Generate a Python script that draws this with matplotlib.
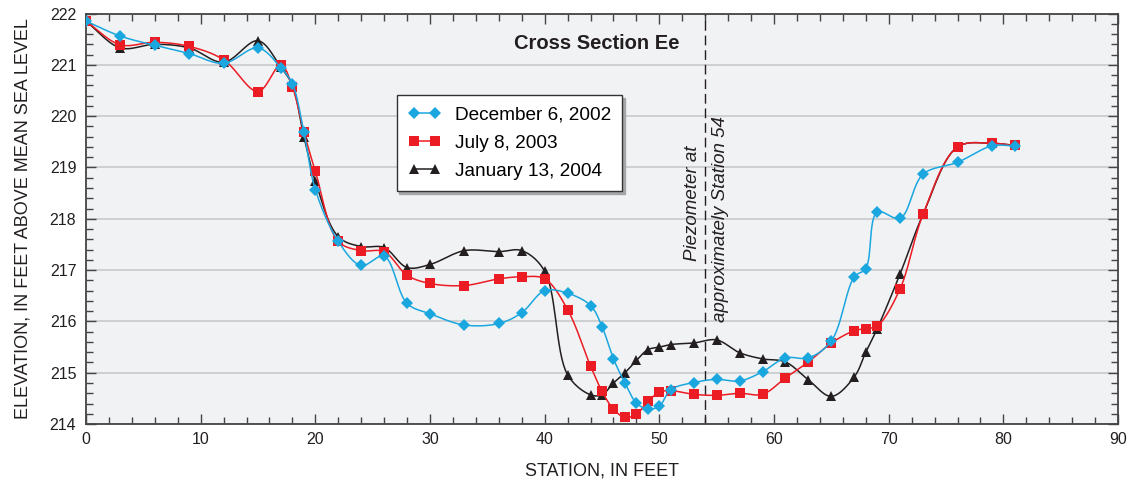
import numpy as np
import matplotlib
matplotlib.use('Agg')
import matplotlib.pyplot as plt
from matplotlib.lines import Line2D
from matplotlib.ticker import MultipleLocator

plt.rcParams['font.family'] = ['Liberation Sans', 'DejaVu Sans']

# station, in feet (same stations surveyed each time)
stations = [0, 3, 6, 9, 12, 15, 17, 18, 19, 20, 22, 24, 26, 28, 30, 33, 36, 38, 40, 42,
            44, 45, 46, 47, 48, 49, 50, 51, 53, 55, 57, 59, 61, 63, 65, 67, 68, 69, 71,
            73, 76, 79, 81]

dec_2002 = [221.85, 221.56, 221.38, 221.22, 221.03, 221.33, 220.94, 220.63, 219.69, 218.57,
            217.56, 217.09, 217.27, 216.35, 216.15, 215.93, 215.96, 216.17, 216.60, 216.55,
            216.31, 215.90, 215.27, 214.80, 214.41, 214.29, 214.35, 214.67, 214.81, 214.87,
            214.84, 215.02, 215.29, 215.29, 215.62, 216.87, 217.03, 218.13, 218.01, 218.87,
            219.10, 219.42, 219.42]

jul_2003 = [221.85, 221.39, 221.44, 221.36, 221.10, 220.48, 221.00, 220.57, 219.69, 218.93,
            217.56, 217.38, 217.36, 216.90, 216.74, 216.70, 216.83, 216.87, 216.83, 216.23,
            215.13, 214.64, 214.29, 214.13, 214.19, 214.44, 214.62, 214.65, 214.58, 214.56,
            214.60, 214.58, 214.90, 215.21, 215.58, 215.82, 215.86, 215.91, 216.64, 218.09,
            219.40, 219.47, 219.43]

jan_2004 = [221.85, 221.33, 221.40, 221.33, 221.05, 221.47, 220.95, 220.60, 219.60, 218.73,
            217.65, 217.46, 217.44, 217.05, 217.11, 217.38, 217.36, 217.38, 216.98, 214.96,
            214.57, 214.57, 214.80, 215.00, 215.24, 215.45, 215.50, 215.55, 215.58, 215.64,
            215.39, 215.27, 215.21, 214.86, 214.54, 214.92, 215.40, 215.86, 216.93, 218.09,
            219.40, 219.47, 219.43]

piezometer_station = 54

BLUE = '#1aa7e0'
RED = '#ec1c24'
BLACK = '#231f20'


def smooth_curve(x, y, n=16, alpha=0.5, yscale=4.5):
    # centripetal catmull-rom through the surveyed points (for drawing only)
    p = np.column_stack([np.asarray(x, float), np.asarray(y, float) * yscale])
    p = np.vstack([2 * p[0] - p[1], p, 2 * p[-1] - p[-2]])
    out = [p[1]]
    for i in range(len(p) - 3):
        p0, p1, p2, p3 = p[i:i + 4]
        t0 = 0.0
        t1 = t0 + np.linalg.norm(p1 - p0) ** alpha
        t2 = t1 + np.linalg.norm(p2 - p1) ** alpha
        t3 = t2 + np.linalg.norm(p3 - p2) ** alpha
        t = np.linspace(t1, t2, n)[1:, None]
        a1 = (t1 - t) / (t1 - t0) * p0 + (t - t0) / (t1 - t0) * p1
        a2 = (t2 - t) / (t2 - t1) * p1 + (t - t1) / (t2 - t1) * p2
        a3 = (t3 - t) / (t3 - t2) * p2 + (t - t2) / (t3 - t2) * p3
        b1 = (t2 - t) / (t2 - t0) * a1 + (t - t0) / (t2 - t0) * a2
        b2 = (t3 - t) / (t3 - t1) * a2 + (t - t1) / (t3 - t1) * a3
        c = (t2 - t) / (t2 - t1) * b1 + (t - t1) / (t2 - t1) * b2
        out.extend(c)
    out = np.array(out)
    return out[:, 0], out[:, 1] / yscale


fig = plt.figure(figsize=(11.33, 4.83), dpi=100)
ax = fig.add_axes([0.0759, 0.122, 0.9109, 0.850])
ax.set_facecolor('#f1f2f4')

series = [
    (jan_2004, 'January 13, 2004', BLACK, '^', 6.5, 3),
    (jul_2003, 'July 8, 2003', RED, 's', 7.5, 5),
    (dec_2002, 'December 6, 2002', BLUE, 'D', 6.3, 7),
]
handles = {}
for vals, label, color, marker, ms, z in series:
    sx, sy = smooth_curve(stations, vals)
    ax.plot(sx, sy, color=color, lw=1.1, zorder=z)
    ax.plot(stations, vals, ls='none', marker=marker, ms=ms, color=color,
            markeredgewidth=0, zorder=z + 1)
    handles[label] = Line2D([], [], color=color, lw=1.1, marker=marker, ms=ms,
                            markeredgewidth=0)

ax.axvline(piezometer_station, color=BLACK, lw=1.0, dashes=(7, 3.5), zorder=2)
ax.text(52.9, 218.3, 'Piezometer at', rotation=90, style='italic', fontsize=13.5,
        ha='center', va='center', color=BLACK)
ax.text(55.35, 218.0, 'approximately Station 54', rotation=90, style='italic',
        fontsize=13.5, ha='center', va='center', color=BLACK)

ax.text(44.5, 221.41, 'Cross Section Ee', fontsize=14.5, fontweight='bold',
        ha='center', va='center', color=BLACK)

order = ['December 6, 2002', 'July 8, 2003', 'January 13, 2004']
leg = ax.legend([handles[k] for k in order], order, loc='upper left',
                bbox_to_anchor=(0.301, 0.801), borderaxespad=0, fontsize=13.7,
                numpoints=2, handlelength=1.7, handletextpad=0.75, labelspacing=0.55,
                borderpad=0.6, fancybox=False, framealpha=1,
                shadow={'color': '0.65', 'alpha': 1})
leg.get_frame().set_edgecolor('#333333')
leg.get_frame().set_linewidth(1.0)
leg.set_zorder(20)

ax.set_xlim(0, 90)
ax.set_ylim(214, 222)
ax.xaxis.set_major_locator(MultipleLocator(10))
ax.xaxis.set_minor_locator(MultipleLocator(2))
ax.yaxis.set_major_locator(MultipleLocator(1))
ax.yaxis.set_minor_locator(MultipleLocator(0.2))
ax.tick_params(which='both', direction='in', top=True, right=True, color='#444444',
               width=1.0, labelsize=11.5, labelcolor=BLACK)
ax.tick_params(which='major', length=7)
ax.tick_params(which='minor', length=5)
ax.tick_params(axis='x', pad=6)
ax.tick_params(axis='y', pad=7)
ax.grid(axis='y', which='major', color='#c9cacc', lw=1.2, zorder=1)
ax.set_axisbelow(True)
for s in ax.spines.values():
    s.set_color('#444444')
    s.set_linewidth(1.3)

ax.set_xlabel('STATION, IN FEET', fontsize=13, color=BLACK, labelpad=11)
ax.set_ylabel('ELEVATION, IN FEET ABOVE MEAN SEA LEVEL', fontsize=13, color=BLACK,
              labelpad=13)

fig.savefig('out.png', dpi=100)
